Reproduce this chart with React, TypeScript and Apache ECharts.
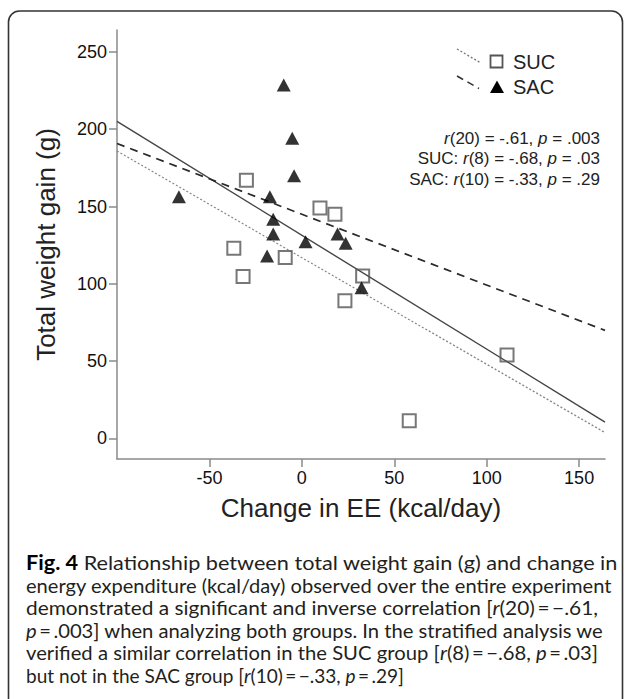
import React, { useEffect, useRef } from "react";
import * as echarts from "echarts";

// ---- data ----
const sucPoints: number[][] = [
  [-30, 167], [9.8, 149], [17.9, 145], [-36.8, 123], [-9, 117],
  [-31.8, 104.7], [32.9, 105], [23.3, 89], [58.1, 11.5], [111, 54],
];
const sacPoints: number[][] = [
  [-9.8, 228.7], [-5.2, 194.2], [-4.2, 170], [-66.5, 156.4], [-17.3, 156.4],
  [-15.5, 141.8], [-15.5, 132.3], [2, 127.3], [19.3, 132.3], [23.7, 126.2],
  [-18.8, 118], [32.3, 97.5],
];
const overallFit: number[][] = [[-100, 205.1], [164, 10.6]];
const sucFit: number[][] = [[-100, 185.9], [164, 3.8]];
const sacFit: number[][] = [[-100, 190.8], [164, 69.9]];
const xTicks = [-50, 0, 50, 100, 150];
const yTicks = [0, 50, 100, 150, 200, 250];
const xRange = [-100, 164];
const yRange = [-13.3, 264.2];
const legendNames = ["SUC", "SAC"];
const statLines = [
  "{i|r}(20) = -.61, {i|p} = .003",
  "SUC: {i|r}(8) = -.68, {i|p} = .03",
  "SAC: {i|r}(10) = -.33, {i|p} = .29",
];
const TS = "\u2009";
const captionLines = [
  "{b|Fig. 4} Relationship between total weight gain (g) and change in",
  "energy expenditure (kcal/day) observed over the entire experiment",
  `demonstrated a significant and inverse correlation [{i|r}(20)${TS}=${TS}\u2212.61,`,
  `{i|p}${TS}=${TS}.003] when analyzing both groups. In the stratified analysis we`,
  `verified a similar correlation in the SUC group [{i|r}(8)${TS}=${TS}\u2212.68, {i|p}${TS}=${TS}.03]`,
  `but not in the SAC group [{i|r}(10)${TS}=${TS}\u2212.33, {i|p}${TS}=${TS}.29]`,
];
// layout: right end of each caption line in the reference
const captionEnds = [618, 612, 598, 604, 598, 404];
const captionLeft = 26;

const ARIAL = "'Liberation Sans', Arial, Helvetica, sans-serif";
const CAP = "Lato, 'Open Sans', sans-serif";

let measureCtx: CanvasRenderingContext2D | null = null;
function measure(text: string, font: string): number {
  try {
    if (!measureCtx) measureCtx = document.createElement("canvas").getContext("2d");
    if (!measureCtx) return 0;
    measureCtx.font = font;
    return measureCtx.measureText(text).width;
  } catch (e) {
    return 0;
  }
}
function richWidth(text: string, size: number): number {
  let w = 0;
  const re = /\{(\w)\|([^}]*)\}/g;
  let last = 0;
  let m: RegExpExecArray | null;
  while ((m = re.exec(text))) {
    w += measure(text.slice(last, m.index), `${size}px ${CAP}`);
    const f = m[1] === "b" ? `bold ${size}px ${CAP}` : `italic ${size}px ${CAP}`;
    w += measure(m[2], f);
    last = m.index + m[0].length;
  }
  w += measure(text.slice(last), `${size}px ${CAP}`);
  return w;
}

export default function App() {
  const ref = useRef<HTMLDivElement>(null);
  useEffect(() => {
    if (!ref.current) return;
    const chart = echarts.init(ref.current, null, { renderer: "svg" });
    const base = richWidth(captionLines[1], 100);
    const capSize = base > 0 ? (100 * (captionEnds[1] - captionLeft)) / base : 19;
    const capColor = "#231f20";

    const graphics: any[] = [
      {
        type: "rect",
        shape: { x: 8.5, y: 11, width: 614, height: 740, r: 11 },
        style: { fill: "none", stroke: "#333", lineWidth: 1.6 },
        z: 0,
      },
      // legend
      {
        type: "line",
        shape: { x1: 457, y1: 49, x2: 480, y2: 62.5 },
        style: { stroke: "#777", lineWidth: 1.3, lineDash: [2, 2] },
      },
      {
        type: "rect",
        shape: { x: 490.5, y: 55.5, width: 12, height: 12 },
        style: { fill: "none", stroke: "#555", lineWidth: 1.8 },
      },
      {
        type: "text",
        style: {
          text: legendNames[0], x: 513, y: 62, fontFamily: ARIAL, fontSize: 20,
          fill: "#222", verticalAlign: "middle", align: "left",
        },
      },
      {
        type: "line",
        shape: { x1: 457, y1: 76, x2: 479, y2: 88.5 },
        style: { stroke: "#333", lineWidth: 1.6, lineDash: [7, 5] },
      },
      {
        type: "polygon",
        shape: { points: [[497, 80.5], [504, 93], [490, 93]] },
        style: { fill: "#000" },
      },
      {
        type: "text",
        style: {
          text: legendNames[1], x: 513, y: 87, fontFamily: ARIAL, fontSize: 20,
          fill: "#222", verticalAlign: "middle", align: "left",
        },
      },
    ];

    statLines.forEach((t, i) => {
      graphics.push({
        type: "text",
        style: {
          text: t, x: 600, y: 138 + i * 20.5, fontFamily: ARIAL, fontSize: 17,
          fill: "#222", align: "right", verticalAlign: "middle",
          rich: { i: { fontStyle: "italic", fontFamily: ARIAL, fontSize: 17, fill: "#222" } },
        },
      });
    });

    captionLines.forEach((t, i) => {
      const nat = richWidth(t, capSize);
      const target = captionEnds[i] - captionLeft;
      let sx = nat > 0 ? target / nat : 1;
      if (sx < 0.8 || sx > 1.2) sx = 1;
      graphics.push({
        type: "text",
        x: captionLeft,
        y: 562 + i * 22.6,
        scaleX: sx,
        style: {
          text: t, x: 0, y: 0, fontFamily: CAP, fontSize: capSize,
          fill: capColor, align: "left", verticalAlign: "middle",
          rich: {
            b: { fontWeight: "bold", fontFamily: CAP, fontSize: capSize, fill: "#000" },
            i: { fontStyle: "italic", fontFamily: CAP, fontSize: capSize, fill: capColor },
          },
        },
      });
    });

    const axisColor = "#8a8a8a";
    chart.setOption({
      animation: false,
      backgroundColor: "#ffffff",
      grid: { left: 117, right: 22, top: 30, bottom: 240, containLabel: false },
      xAxis: {
        type: "value",
        min: xRange[0],
        max: xRange[1],
        name: "Change in EE (kcal/day)",
        nameLocation: "middle",
        nameGap: 36,
        nameTextStyle: { fontFamily: ARIAL, fontSize: 26, color: "#222" },
        axisLine: { show: true, onZero: false, lineStyle: { color: axisColor, width: 1.5 } },
        axisTick: { show: true, length: 8, customValues: xTicks, lineStyle: { color: axisColor, width: 1.5 } },
        axisLabel: { customValues: xTicks, fontFamily: ARIAL, fontSize: 18, color: "#111", margin: 10 },
        splitLine: { show: false },
      },
      yAxis: {
        type: "value",
        min: yRange[0],
        max: yRange[1],
        name: "Total weight gain (g)",
        nameLocation: "middle",
        nameGap: 58,
        nameTextStyle: { fontFamily: ARIAL, fontSize: 26, color: "#222" },
        axisLine: { show: true, onZero: false, lineStyle: { color: axisColor, width: 1.5 } },
        axisTick: { show: true, length: 8, customValues: yTicks, lineStyle: { color: axisColor, width: 1.5 } },
        axisLabel: { customValues: yTicks, fontFamily: ARIAL, fontSize: 18, color: "#111", margin: 10 },
        splitLine: { show: false },
      },
      series: [
        {
          type: "line", data: overallFit, showSymbol: false, silent: true, z: 2,
          lineStyle: { color: "#444", width: 1.4, type: "solid" },
        },
        {
          type: "line", data: sucFit, showSymbol: false, silent: true, z: 2,
          lineStyle: { color: "#888", width: 1.3, type: [2, 2] },
        },
        {
          type: "line", data: sacFit, showSymbol: false, silent: true, z: 2,
          lineStyle: { color: "#2a2a2a", width: 1.7, type: [8, 6] },
        },
        {
          name: legendNames[0], type: "scatter", data: sucPoints, symbol: "rect", symbolSize: 13, z: 3,
          itemStyle: { color: "rgba(255,255,255,0)", borderColor: "#555", borderWidth: 2 },
        },
        {
          name: legendNames[1], type: "scatter", data: sacPoints, symbol: "triangle", symbolSize: [14, 13], z: 3,
          itemStyle: { color: "#000" },
        },
      ],
      graphic: graphics,
    });
    return () => chart.dispose();
  }, []);
  return <div ref={ref} style={{ width: 627, height: 699, position: "absolute", left: 0, top: 0 }} />;
}
